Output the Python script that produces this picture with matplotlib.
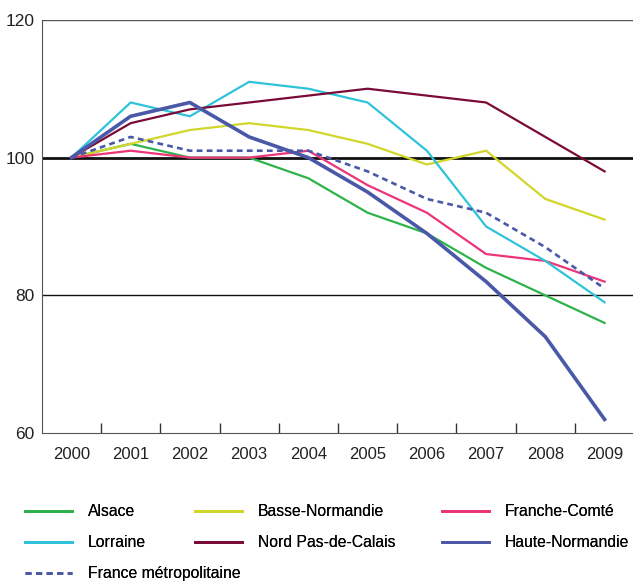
import matplotlib
matplotlib.use("Agg")
import matplotlib.pyplot as plt
import numpy as np

plt.rcParams['font.family'] = ['Liberation Sans', 'DejaVu Sans']

years = [2000, 2001, 2002, 2003, 2004, 2005, 2006, 2007, 2008, 2009]

alsace = [100, 102, 100, 100, 97, 92, 89, 84, 80, 76]
basse_normandie = [100, 102, 104, 105, 104, 102, 99, 101, 94, 91]
franche_comte = [100, 101, 100, 100, 101, 96, 92, 86, 85, 82]
lorraine = [100, 108, 106, 111, 110, 108, 101, 90, 85, 79]
nord_pdc = [100, 105, 107, 108, 109, 110, 109, 108, 103, 98]
haute_normandie = [100, 106, 108, 103, 100, 95, 89, 82, 74, 62]
france_metro = [100, 103, 101, 101, 101, 98, 94, 92, 87, 81]

fig = plt.figure(figsize=(6.33, 5.83), dpi=100)
ax = fig.add_axes([0.066, 0.257, 0.934, 0.709])

x = np.arange(len(years))

# reference lines
ax.axhline(120, color='#555555', lw=1.0, zorder=1)
ax.axhline(100, color='#111111', lw=2.0, zorder=1)
ax.axhline(80, color='#111111', lw=1.0, zorder=1)

l_als, = ax.plot(x, alsace, color='#2eb34a', lw=1.6, label='Alsace', zorder=3)
l_bas, = ax.plot(x, basse_normandie, color='#d2d62a', lw=1.6, label='Basse-Normandie', zorder=3)
l_fra, = ax.plot(x, franche_comte, color='#ec3479', lw=1.6, label='Franche-Comté', zorder=3)
l_lor, = ax.plot(x, lorraine, color='#2ec3da', lw=1.6, label='Lorraine', zorder=3)
l_nor, = ax.plot(x, nord_pdc, color='#7a0b37', lw=1.6, label='Nord Pas-de-Calais', zorder=3)
l_hau, = ax.plot(x, haute_normandie, color='#4a58a8', lw=2.6, label='Haute-Normandie', zorder=4)
l_fm, = ax.plot(x, france_metro, color='#4a58a8', lw=1.9, ls=(0, (2.2, 1.6)),
                label='France métropolitaine', zorder=4)

ax.set_xlim(-0.5, 9.48)
ax.set_ylim(60, 120)
ax.set_yticks([60, 80, 100, 120])
ax.tick_params(axis='y', length=0, labelsize=12.5, pad=5, colors='#222222')

ax.set_xticks(x)
ax.set_xticklabels([str(y) for y in years])
ax.set_xticks(np.arange(0.5, 9, 1), minor=True)
ax.tick_params(axis='x', which='major', length=0, labelsize=12, pad=10, colors='#222222')
ax.tick_params(axis='x', which='minor', length=7, width=1.0, direction='in', color='#333333')

for side in ['top', 'right']:
    ax.spines[side].set_visible(False)
ax.spines['left'].set_color('#555555')
ax.spines['bottom'].set_color('#555555')

# legend: one legend per column, placed like the reference
columns = [
    ([l_als, l_lor, l_fm], 25),
    ([l_bas, l_nor], 195),
    ([l_fra, l_hau], 442),
]
W, H = 633.0, 583.0
for hs, xpx in columns:
    leg = fig.legend(handles=hs, labels=[h.get_label() for h in hs],
                     loc='upper left', bbox_to_anchor=(xpx / W, 1 - 504 / H),
                     frameon=False, fontsize=11.3, handlelength=3.0,
                     handletextpad=1.0, labelspacing=1.02,
                     borderpad=0, borderaxespad=0)
    for lh in leg.get_lines():
        lh.set_linewidth(2.0)
    fig.add_artist(leg)

fig.savefig('out.png', dpi=100)
